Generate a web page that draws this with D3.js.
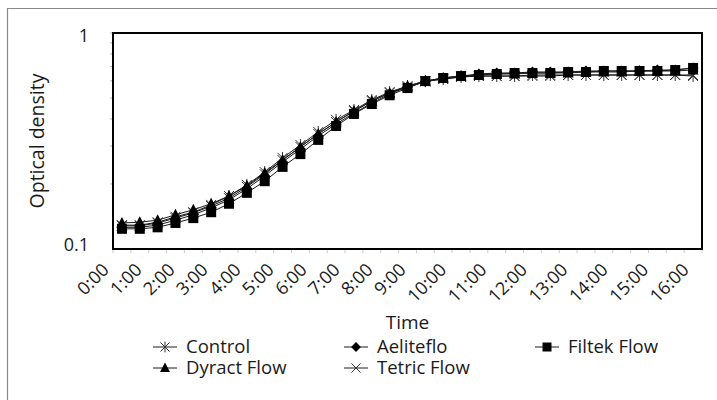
<!DOCTYPE html>
<html lang="en">
<head>
  <meta charset="UTF-8">
  <title>Optical density over time</title>
  <script src="https://d3js.org/d3.v7.min.js"></script>
  <style>
    body { margin: 0; background: #fff; }
    text { font-family: "Open Sans", "Noto Sans", sans-serif; fill: #1a1a1a; }
    .series { fill: none; stroke: #1a1a1a; stroke-width: 1px; }
  </style>
</head>
<body>
  <div id="chart"></div>
  <script>
    // time points every half hour, 0:00 .. 16:00
    const times = d3.range(0, 33).map(i => `${Math.floor(i / 2)}:${i % 2 ? "30" : "00"}`);
    const hourLabels = d3.range(0, 17).map(h => `${h}:00`);

    // optical density readings
    const control = [0.129, 0.129, 0.133, 0.141, 0.148, 0.160, 0.176, 0.198, 0.227, 0.264, 0.303, 0.348, 0.396, 0.440, 0.490, 0.533, 0.568, 0.599, 0.612, 0.626, 0.632, 0.632, 0.632, 0.639, 0.639, 0.639, 0.639, 0.639, 0.639, 0.639, 0.639, 0.639, 0.632];
    const aeliteflo = [0.126, 0.126, 0.129, 0.136, 0.144, 0.155, 0.169, 0.190, 0.218, 0.253, 0.290, 0.334, 0.379, 0.426, 0.474, 0.522, 0.562, 0.596, 0.619, 0.632, 0.646, 0.653, 0.653, 0.660, 0.660, 0.660, 0.667, 0.667, 0.667, 0.667, 0.674, 0.674, 0.689];
    const filtekFlow = [0.124, 0.124, 0.126, 0.132, 0.139, 0.148, 0.162, 0.182, 0.206, 0.240, 0.275, 0.320, 0.371, 0.422, 0.469, 0.515, 0.556, 0.599, 0.619, 0.632, 0.639, 0.646, 0.653, 0.653, 0.653, 0.660, 0.660, 0.667, 0.667, 0.667, 0.667, 0.674, 0.689];
    const dyractFlow = [0.132, 0.133, 0.136, 0.144, 0.152, 0.162, 0.176, 0.196, 0.225, 0.258, 0.297, 0.341, 0.387, 0.435, 0.484, 0.528, 0.568, 0.599, 0.619, 0.632, 0.639, 0.646, 0.646, 0.653, 0.653, 0.653, 0.660, 0.660, 0.660, 0.667, 0.667, 0.667, 0.674];
    const tetricFlow = [0.128, 0.128, 0.132, 0.139, 0.147, 0.158, 0.172, 0.194, 0.222, 0.258, 0.297, 0.341, 0.387, 0.435, 0.484, 0.528, 0.562, 0.596, 0.612, 0.626, 0.632, 0.632, 0.632, 0.632, 0.632, 0.639, 0.639, 0.639, 0.639, 0.639, 0.639, 0.639, 0.639];

    const seriesNames = ["Control", "Aeliteflo", "Filtek Flow", "Dyract Flow", "Tetric Flow"];
    const seriesValues = [control, aeliteflo, filtekFlow, dyractFlow, tetricFlow];
    const seriesMarkers = ["asterisk", "diamond", "square", "triangle", "cross"];

    const width = 717;
    const height = 400;
    const margin = { top: 33, right: 15, bottom: 151, left: 113 };

    const svg = d3.select("#chart")
      .append("svg")
      .attr("width", width)
      .attr("height", height);

    // outer frame (top and left only show in the picture)
    svg.append("path")
      .attr("d", `M7.5,${height} V8.5 H${width}`)
      .attr("fill", "none")
      .attr("stroke", "#8a8a8a")
      .attr("stroke-width", 1.2);

    const x = d3.scaleBand()
      .domain(times)
      .range([margin.left, width - margin.right]);
    const cx = t => x(t) + x.bandwidth() / 2;

    const y = d3.scaleLog()
      .domain([0.1, 1])
      .range([height - margin.bottom, margin.top]);

    // hour labels are not evenly spread in the source figure
    const labelX = d3.scaleLinear()
      .domain([0, 9, 16])
      .range([margin.left - 3, margin.left + 294, margin.left + 577]);

    // x ticks at category borders
    svg.append("g")
      .selectAll("line")
      .data(d3.range(0, times.length + 1))
      .join("line")
      .attr("x1", i => margin.left + i * x.step())
      .attr("x2", i => margin.left + i * x.step())
      .attr("y1", y(0.1))
      .attr("y2", y(0.1) + 4)
      .attr("stroke", "#c8c8c8");

    svg.append("g")
      .selectAll("text")
      .data(hourLabels)
      .join("text")
      .attr("transform", (d, i) => `translate(${labelX(i)},${y(0.1) + 22}) rotate(-45)`)
      .attr("text-anchor", "end")
      .style("font-size", "18px")
      .text(d => d);

    // y minor ticks
    svg.append("g")
      .selectAll("line")
      .data(d3.range(0.2, 1.0, 0.1).concat([1]))
      .join("line")
      .attr("x1", margin.left - 3)
      .attr("x2", margin.left)
      .attr("y1", d => y(d))
      .attr("y2", d => y(d))
      .attr("stroke", "#b0b0b0");

    svg.append("g")
      .selectAll("text")
      .data([1, 0.1])
      .join("text")
      .attr("x", margin.left - 24)
      .attr("y", d => y(d) + (d === 1 ? 3 : -4))
      .attr("dy", "0.35em")
      .attr("text-anchor", "end")
      .style("font-size", "18px")
      .text(d => d);

    // plot frame
    svg.append("rect")
      .attr("x", margin.left)
      .attr("y", margin.top)
      .attr("width", width - margin.right - margin.left)
      .attr("height", y(0.1) - margin.top)
      .attr("fill", "none")
      .attr("stroke", "#000")
      .attr("stroke-width", 2);

    // markers
    function marker(g, type, s) {
      if (type === "square") {
        g.append("rect").attr("x", -s / 2).attr("y", -s / 2).attr("width", s).attr("height", s).attr("fill", "#000");
      } else if (type === "diamond") {
        g.append("path").attr("d", d3.symbol(d3.symbolDiamond2, s * s * 0.75)()).attr("fill", "#000");
      } else if (type === "triangle") {
        g.append("path").attr("d", `M0,${-s * 0.6} L${s * 0.55},${s * 0.45} L${-s * 0.55},${s * 0.45} Z`).attr("fill", "#000");
      } else if (type === "cross") {
        const h = s / 2;
        g.append("path").attr("d", `M${-h},${-h} L${h},${h} M${-h},${h} L${h},${-h}`)
          .attr("stroke", "#333").attr("stroke-width", 1).attr("fill", "none");
      } else {
        const h = s / 2;
        g.append("path").attr("d", `M${-h},${-h} L${h},${h} M${-h},${h} L${h},${-h} M0,${-h * 1.2} V${h * 1.2}`)
          .attr("stroke", "#333").attr("stroke-width", 1).attr("fill", "none");
      }
    }

    const line = d3.line()
      .x((d, i) => cx(times[i]))
      .y(d => y(d));

    const plot = svg.append("g");
    seriesValues.forEach(vals => {
      plot.append("path")
        .datum(vals)
        .attr("class", "series")
        .attr("d", line);
    });
    // outline markers first, filled ones on top
    [4, 0, 1, 3, 2].forEach(k => {
      plot.append("g")
        .selectAll("g")
        .data(seriesValues[k])
        .join("g")
        .attr("transform", (d, i) => `translate(${cx(times[i])},${y(d)})`)
        .each(function () { marker(d3.select(this), seriesMarkers[k], 10); });
    });

    // axis titles
    svg.append("text")
      .attr("x", (margin.left + width - margin.right) / 2)
      .attr("y", 329)
      .attr("text-anchor", "middle")
      .style("font-size", "19px")
      .text("Time");

    svg.append("text")
      .attr("transform", `translate(44,${(margin.top + y(0.1)) / 2}) rotate(-90)`)
      .attr("text-anchor", "middle")
      .style("font-size", "19.5px")
      .text("Optical density");

    // legend, three columns by two rows
    const legendCols = [165, 356, 547];
    const legendRows = [347, 368];
    const legend = svg.append("g")
      .selectAll("g")
      .data(seriesNames)
      .join("g")
      .attr("transform", (d, i) => `translate(${legendCols[i % 3]},${legendRows[Math.floor(i / 3)]})`);

    legend.append("line")
      .attr("x1", -12).attr("x2", 12)
      .attr("stroke", "#1a1a1a");
    legend.each(function (d, i) { marker(d3.select(this), seriesMarkers[i], 9); });
    legend.append("text")
      .attr("x", 21)
      .attr("dy", "0.35em")
      .style("font-size", "18.5px")
      .text(d => d);
  </script>
</body>
</html>
